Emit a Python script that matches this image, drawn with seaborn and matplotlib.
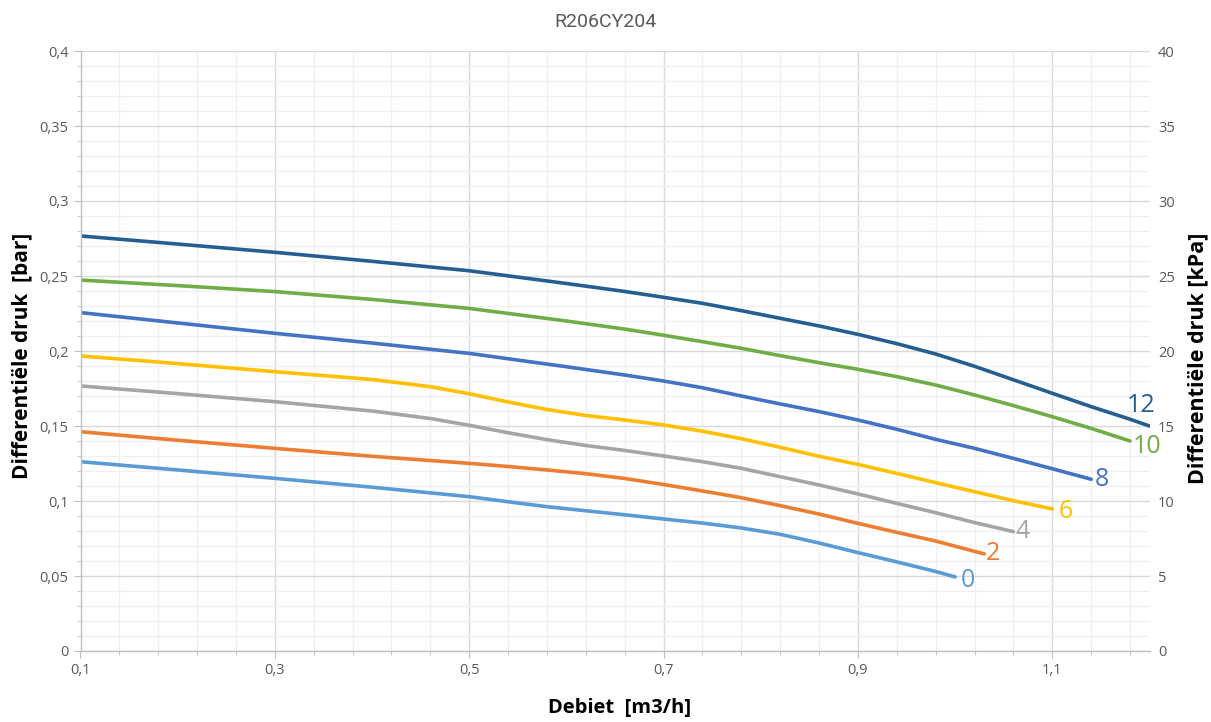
import numpy as np
import pandas as pd
import matplotlib
matplotlib.use("Agg")
import matplotlib.pyplot as plt
from matplotlib.ticker import MultipleLocator, FixedLocator, FuncFormatter
import seaborn as sns

# ---- data ----
title = "R206CY204"
series_names = ["0", "2", "4", "6", "8", "10", "12"]

x0 = [0.1, 0.2, 0.3, 0.4, 0.5, 0.54, 0.58, 0.62, 0.66, 0.7, 0.74, 0.78, 0.82, 0.86, 0.9,
      0.94, 0.98, 1.0]
y0 = [0.1262, 0.1207, 0.1151, 0.1092, 0.1029, 0.0995, 0.0962, 0.0935, 0.0908, 0.0880,
      0.0853, 0.0820, 0.0778, 0.0720, 0.0656, 0.0594, 0.0530, 0.0494]

x2 = [0.1, 0.2, 0.3, 0.4, 0.5, 0.54, 0.58, 0.62, 0.66, 0.7, 0.74, 0.78, 0.82, 0.86, 0.9,
      0.94, 0.98, 1.03]
y2 = [0.1462, 0.1405, 0.1351, 0.1298, 0.1251, 0.1230, 0.1207, 0.1182, 0.1150, 0.1110,
      0.1067, 0.1022, 0.0969, 0.0913, 0.0851, 0.0791, 0.0733, 0.0647]

x4 = [0.1, 0.2, 0.3, 0.4, 0.46, 0.5, 0.54, 0.58, 0.62, 0.66, 0.7, 0.74, 0.78, 0.82, 0.86,
      0.9, 0.94, 0.98, 1.02, 1.06]
y4 = [0.1767, 0.1716, 0.1662, 0.1600, 0.1550, 0.1505, 0.1455, 0.1409, 0.1370, 0.1337,
      0.1300, 0.1262, 0.1218, 0.1162, 0.1107, 0.1047, 0.0984, 0.0922, 0.0856, 0.0796]

x6 = [0.1, 0.2, 0.3, 0.4, 0.46, 0.5, 0.54, 0.58, 0.62, 0.66, 0.7, 0.74, 0.78, 0.82, 0.86,
      0.9, 0.94, 0.98, 1.02, 1.06, 1.1]
y6 = [0.1967, 0.1916, 0.1862, 0.1810, 0.1762, 0.1715, 0.1660, 0.1610, 0.1570, 0.1540,
      0.1507, 0.1465, 0.1415, 0.1358, 0.1298, 0.1244, 0.1184, 0.1122, 0.1062, 0.1002, 0.0947]

x8 = [0.1, 0.2, 0.3, 0.4, 0.5, 0.6, 0.66, 0.7, 0.74, 0.78, 0.82, 0.86, 0.9, 0.94, 0.98, 1.02,
      1.06, 1.1, 1.14]
y8 = [0.2256, 0.2187, 0.2118, 0.2053, 0.1984, 0.1895, 0.1840, 0.1800, 0.1755, 0.1700,
      0.1647, 0.1596, 0.1540, 0.1478, 0.1411, 0.1351, 0.1284, 0.1215, 0.1145]

x10 = [0.1, 0.2, 0.3, 0.4, 0.5, 0.6, 0.66, 0.7, 0.74, 0.78, 0.82, 0.86, 0.9, 0.94, 0.98, 1.02,
       1.06, 1.1, 1.14, 1.18]
y10 = [0.2473, 0.2436, 0.2396, 0.2344, 0.2284, 0.2200, 0.2146, 0.2105, 0.2062, 0.2018,
       0.1969, 0.1922, 0.1878, 0.1829, 0.1773, 0.1707, 0.1636, 0.1562, 0.1484, 0.1400]

x12 = [0.1, 0.2, 0.3, 0.4, 0.5, 0.6, 0.66, 0.7, 0.74, 0.78, 0.82, 0.86, 0.9, 0.94, 0.98, 1.02,
       1.06, 1.1, 1.14, 1.18, 1.2]
y12 = [0.2767, 0.2713, 0.2658, 0.2598, 0.2535, 0.2450, 0.2397, 0.2358, 0.2318, 0.2269,
       0.2218, 0.2167, 0.2111, 0.2049, 0.1980, 0.1898, 0.1808, 0.1718, 0.1629, 0.1545, 0.1500]

xs = [x0, x2, x4, x6, x8, x10, x12]
ys = [y0, y2, y4, y6, y8, y10, y12]

x_major_ticks = [0.1, 0.3, 0.5, 0.7, 0.9, 1.1]

colors = {"0": "#5B9BD5", "2": "#ED7D31", "4": "#A5A5A5", "6": "#FFC000",
          "8": "#4472C4", "10": "#70AD47", "12": "#255E91"}
# label centre offsets from line end, in pixels (style)
label_offsets = {"0": (12.7, -3.6), "2": (8.5, 0), "4": (9.5, 0), "6": (13, -3),
                 "8": (11, 0), "10": (17, -5), "12": (-8.5, 21)}

rows = []
for name, xv, yv in zip(series_names, xs, ys):
    for a, b in zip(xv, yv):
        rows.append({"Debiet": a, "Druk": b, "serie": name})
df = pd.DataFrame(rows)

# ---- style ----
sns.set_style("white")
plt.rcParams["font.family"] = ["Open Sans", "DejaVu Sans"]

W, H = 1211, 722
fig = plt.figure(figsize=(W / 100, H / 100), dpi=100)
ax = fig.add_axes([80.5 / W, 1 - 651 / H, (1149.5 - 80.5) / W, 600 / H])

sns.lineplot(data=df, x="Debiet", y="Druk", hue="serie", palette=colors,
             sort=False, legend=False, linewidth=2.6, ax=ax)
for ln in ax.get_lines():
    ln.set_solid_joinstyle("round")
    ln.set_solid_capstyle("round")

ax.set_xlim(0.1, 1.2)
ax.set_ylim(0, 0.4)
ax.xaxis.set_major_locator(FixedLocator(x_major_ticks))
ax.xaxis.set_minor_locator(FixedLocator(np.arange(0.1, 1.2001, 0.04)))
ax.yaxis.set_major_locator(MultipleLocator(0.05))
ax.yaxis.set_minor_locator(MultipleLocator(0.01))

fmt = FuncFormatter(lambda v, p: f"{round(v, 3):g}".replace(".", ","))
ax.xaxis.set_major_formatter(fmt)
ax.yaxis.set_major_formatter(fmt)

ax.grid(which="major", color="#D9D9D9", linewidth=1.0)
ax.grid(which="minor", color="#F0F0F0", linewidth=1.0)
ax.set_axisbelow(True)

for s in ["top", "right"]:
    ax.spines[s].set_visible(False)
for s in ["left", "bottom"]:
    ax.spines[s].set_color("#BFBFBF")
    ax.spines[s].set_linewidth(1.0)

ax.tick_params(which="both", direction="out", color="#BFBFBF",
               labelcolor="#595959", labelsize=10.5)
ax.tick_params(which="major", length=5, bottom=True, left=True)
ax.tick_params(which="minor", length=3, bottom=True, left=True)
ax.tick_params(axis="x", pad=4)

ax.set_xlabel("")
ax.set_ylabel("")

# right axis in kPa
ax2 = ax.twinx()
ax2.set_ylim(0, 40)
ax2.yaxis.set_major_locator(MultipleLocator(5))
for s in ax2.spines.values():
    s.set_visible(False)
ax2.tick_params(axis="y", length=0, labelcolor="#595959", labelsize=10.5, pad=6)
ax2.grid(False)

# curve labels
for name, xv, yv in zip(series_names, xs, ys):
    dx, dy = label_offsets[name]
    ax.annotate(name, xy=(xv[-1], yv[-1]), xytext=(dx * 0.72, dy * 0.72),
                textcoords="offset points", ha="center", va="center",
                fontsize=18, color=colors[name], family=["Open Sans", "DejaVu Sans"])

fig.text(0.5, 1 - 22 / H, title, ha="center", va="center",
         fontsize=14, color="#595959", family=["Roboto", "DejaVu Sans"])
fig.text(620 / W, 1 - 708 / H, "Debiet  [m3/h]", ha="center", va="center",
         fontsize=14.5, fontweight="bold", color="black",
         family=["Open Sans", "DejaVu Sans"])
fig.text(22 / W, 1 - 356 / H, "Differentiële druk  [bar]", ha="center", va="center",
         rotation=90, fontsize=15, fontweight="bold", color="black",
         family=["Open Sans", "DejaVu Sans"])
fig.text(1198 / W, 1 - 358 / H, "Differentiële druk [kPa]", ha="center", va="center",
         rotation=90, fontsize=15.5, fontweight="bold", color="black",
         family=["Open Sans", "DejaVu Sans"])

fig.savefig("out.png", dpi=100)
